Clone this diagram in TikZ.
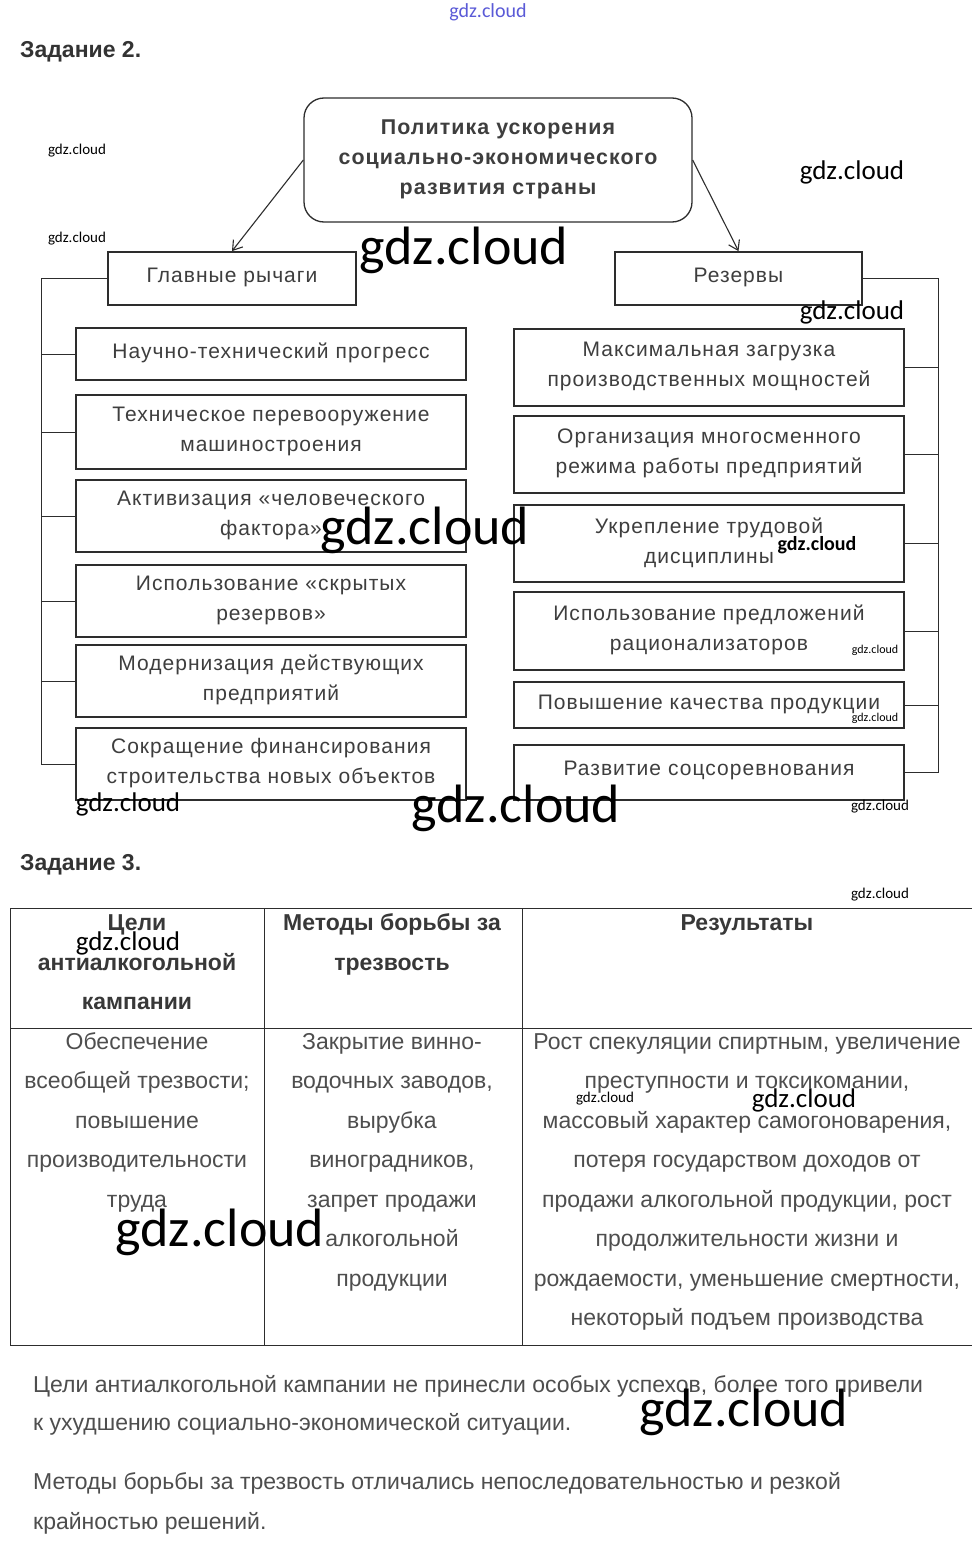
\documentclass[tikz,border=0pt]{standalone}
\usepackage{fontspec}
\setmainfont{Liberation Sans}
\newfontfamily\diafont[LetterSpace=5]{Liberation Sans}
\newfontfamily\wmfont{Carlito}
\usetikzlibrary{arrows.meta}
\definecolor{txt}{RGB}{62,62,62}
\definecolor{tabtxt}{RGB}{78,78,78}
\definecolor{ln}{RGB}{45,45,45}
\definecolor{wmblue}{RGB}{90,90,215}
\begin{document}
\begin{tikzpicture}[x=1pt,y=-1pt,
  box/.style={draw=ln, line width=1.8pt, inner sep=0pt, align=center, text=txt,
    font=\diafont\fontsize{21}{30}\selectfont},
  topbox/.style={box, rounded corners=20pt, line width=1.3pt, font=\diafont\bfseries\fontsize{21.4}{30}\selectfont},
  thinln/.style={draw=ln, line width=1pt},
  arr/.style={draw=ln, line width=1.1pt, -{Straight Barb[length=9pt,width=12pt]}},
  heading/.style={anchor=base west, inner sep=0pt, text=black!80, font=\bfseries\fontsize{23}{27}\selectfont},
  cell/.style={anchor=base, inner sep=0pt, text=tabtxt, font=\fontsize{23}{27}\selectfont},
  hcell/.style={anchor=base, inner sep=0pt, text=black!78, font=\bfseries\fontsize{23}{27}\selectfont},
  para/.style={anchor=base west, inner sep=0pt, text=tabtxt, font=\fontsize{23}{27}\selectfont},
  wm/.style={inner sep=0pt, text=black, font=\wmfont\fontsize{#1}{#1}\selectfont},
  wmb/.style={inner sep=0pt, text=black, font=\wmfont\bfseries\fontsize{#1}{#1}\selectfont}]
\path[use as bounding box, fill=white] (0,0) rectangle (976,1547);

% headings
\node[heading] (h2) at (20,57) {Задание 2.};
\node[heading] (h3) at (20,870) {Задание 3.};

% top and level-1 boxes
\node[topbox, minimum width=388pt, minimum height=124pt] (top) at (498,160)
  {Политика ускорения\\социально-экономического\\развития страны\rule[-6pt]{0pt}{1pt}};
\node[box, minimum width=248pt, minimum height=53pt] (lev) at (232,278.5) {Главные рычаги\rule[-7pt]{0pt}{1pt}};
\node[box, minimum width=247pt, minimum height=53pt] (res) at (738.5,278.5) {Резервы\rule[-7pt]{0pt}{1pt}};
\draw[arr] (top.west) -- (lev.north);
\draw[arr] (top.east) -- (res.north);

% left column
\node[box, minimum width=390pt, minimum height=52pt] (l1) at (271,354) {Научно-технический прогресс\rule[-6pt]{0pt}{1pt}};
\node[box, minimum width=390pt, minimum height=74pt] (l2) at (271,432) {Техническое перевооружение\\машиностроения\rule[-6pt]{0pt}{1pt}};
\node[box, minimum width=390pt, minimum height=72pt] (l3) at (271,516) {Активизация «человеческого\\фактора»\rule[-6pt]{0pt}{1pt}};
\node[box, minimum width=390pt, minimum height=72pt] (l4) at (271,601) {Использование «скрытых\\резервов»\rule[-6pt]{0pt}{1pt}};
\node[box, minimum width=390pt, minimum height=72pt] (l5) at (271,681) {Модернизация действующих\\предприятий\rule[-6pt]{0pt}{1pt}};
\node[box, minimum width=390pt, minimum height=72pt] (l6) at (271,764) {Сокращение финансирования\\строительства новых объектов\rule[-6pt]{0pt}{1pt}};
\draw[thinln] (lev.west) -- ++(-66,0) |- (l6.west);
\foreach \n in {l1,l2,l3,l4,l5} \draw[thinln] (\n.west) -- ++(-34,0);

% right column
\node[box, minimum width=390pt, minimum height=77pt] (r1) at (709,367.5) {Максимальная загрузка\\производственных мощностей\rule[-6pt]{0pt}{1pt}};
\node[box, minimum width=390pt, minimum height=77pt] (r2) at (709,454.5) {Организация многосменного\\режима работы предприятий\rule[-6pt]{0pt}{1pt}};
\node[box, minimum width=390pt, minimum height=77pt] (r3) at (709,543.5) {Укрепление трудовой\\дисциплины\rule[-6pt]{0pt}{1pt}};
\node[box, minimum width=390pt, minimum height=78pt] (r4) at (709,631) {Использование предложений\\рационализаторов\rule[-6pt]{0pt}{1pt}};
\node[box, minimum width=390pt, minimum height=46pt] (r5) at (709,705) {Повышение качества продукции\rule[-6pt]{0pt}{1pt}};
\node[box, minimum width=390pt, minimum height=55pt] (r6) at (709,772.5) {Развитие соцсоревнования\rule[-9pt]{0pt}{1pt}};
\draw[thinln] (res.east) -- ++(76,0) |- (r6.east);
\foreach \n in {r1,r2,r3,r4,r5} \draw[thinln] (\n.east) -- ++(34,0);

% table
\coordinate (tl) at (10,908);
\coordinate (tr) at (972,908);
\coordinate (ml) at (10,1028);
\coordinate (mr) at (972,1028);
\coordinate (bl) at (10,1345);
\coordinate (br) at (972,1345);
\draw[thinln] (tl) -- (tr);
\draw[thinln] (ml) -- (mr);
\draw[thinln] (bl) -- (br);
\draw[thinln] (tl) -- (bl);
\draw[thinln] (264,908) -- (264,1345);
\draw[thinln] (522,908) -- (522,1345);

\node[hcell] (hc1a) at (137,930) {Цели};
\node[hcell] (hc1b) at (137,970) {антиалкогольной};
\node[hcell] (hc1c) at (137,1009) {кампании};
\node[hcell] (hc2a) at (392,930) {Методы борьбы за};
\node[hcell] (hc2b) at (392,970) {трезвость};
\node[hcell] (hc3a) at (747,930) {Результаты};

\foreach \t [count=\i] in {{Обеспечение},{всеобщей трезвости;},{повышение},{производительности},{труда}}
  \node[cell] (ca\i) at (137,{1049+39.5*(\i-1)}) {\t};
\foreach \t [count=\i] in {{Закрытие винно-},{водочных заводов,},{вырубка},{виноградников,},{запрет продажи},{алкогольной},{продукции}}
  \node[cell] (cb\i) at (392,{1049+39.5*(\i-1)}) {\t};
\foreach \t [count=\i] in {{Рост спекуляции спиртным, увеличение},{преступности и токсикомании,},{массовый характер самогоноварения,},{потеря государством доходов от},{продажи алкогольной продукции, рост},{продолжительности жизни и},{рождаемости, уменьшение смертности,},{некоторый подъем производства}}
  \node[cell] (cc\i) at (747,{1049+39.5*(\i-1)}) {\t};

% paragraphs
\node[para] (p1) at (33,1392) {Цели антиалкогольной кампании не принесли особых успехов, более того привели};
\node[para] (p2) at (33,1430) {к ухудшению социально-экономической ситуации.};
\node[para] (p3) at (33,1489) {Методы борьбы за трезвость отличались непоследовательностью и резкой};
\node[para] (p4) at (33,1529) {крайностью решений.};

% watermarks
\node[wm=20, text=wmblue] (w0) at (488,12) {gdz.cloud};
\node[wm=54] (w1) at (464,250) {gdz.cloud};
\node[wm=54] (w2) at (425,530) {gdz.cloud};
\node[wm=54] (w3) at (516,808) {gdz.cloud};
\node[wm=54] (w4) at (220,1232) {gdz.cloud};
\node[wm=54] (w5) at (744,1412) {gdz.cloud};
\node[wm=27] (w6) at (852,172) {gdz.cloud};
\node[wm=27] (w7) at (852,312) {gdz.cloud};
\node[wm=27] (w8) at (128,804) {gdz.cloud};
\node[wm=27] (w9) at (128,943) {gdz.cloud};
\node[wm=27] (w10) at (804,1100) {gdz.cloud};
\node[wmb=20] (w11) at (817,545) {gdz.cloud};
\node[wm=15] (w12) at (77,151) {gdz.cloud};
\node[wm=15] (w13) at (77,239) {gdz.cloud};
\node[wm=15] (w14) at (880,807) {gdz.cloud};
\node[wm=15] (w15) at (880,895) {gdz.cloud};
\node[wm=15] (w16) at (605,1099) {gdz.cloud};
\node[wm=12] (w17) at (875,650) {gdz.cloud};
\node[wm=12] (w18) at (875,718) {gdz.cloud};
\end{tikzpicture}
\end{document}
